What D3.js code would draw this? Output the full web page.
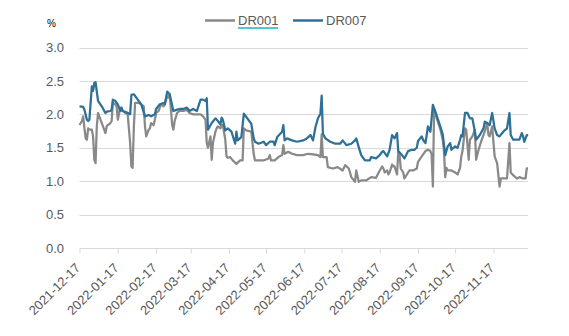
<!DOCTYPE html>
<html><head><meta charset="utf-8">
<script src="https://cdn.jsdelivr.net/npm/d3@7/dist/d3.min.js"></script>
<style>
html,body{margin:0;padding:0;background:#fff;}
svg{display:block;font-family:"Liberation Sans",Arial,sans-serif;}
</style></head>
<body><svg id="chart" width="569" height="336"></svg>
<script>
const seriesNames = ["DR001", "DR007"];
const yTicks = [0, 0.5, 1.0, 1.5, 2.0, 2.5, 3.0];
const xTickLabels = ["2021-12-17","2022-01-17","2022-02-17","2022-03-17","2022-04-17","2022-05-17","2022-06-17","2022-07-17","2022-08-17","2022-09-17","2022-10-17","2022-11-17"];
const xDomain = ["2021-12-17", "2022-12-15"];

const dr001Dates = ["2021-12-17","2021-12-19","2021-12-20","2021-12-21","2021-12-22","2021-12-23","2021-12-24","2021-12-25","2021-12-27","2021-12-28","2021-12-29","2021-12-30","2021-12-31","2022-01-01","2022-01-03","2022-01-05","2022-01-07","2022-01-08","2022-01-09","2022-01-11","2022-01-12","2022-01-13","2022-01-15","2022-01-16","2022-01-17","2022-01-19","2022-01-21","2022-01-23","2022-01-25","2022-01-27","2022-01-28","2022-01-29","2022-01-30","2022-01-31","2022-02-03","2022-02-05","2022-02-07","2022-02-08","2022-02-09","2022-02-11","2022-02-12","2022-02-13","2022-02-15","2022-02-16","2022-02-17","2022-02-19","2022-02-20","2022-02-21","2022-02-23","2022-02-24","2022-02-26","2022-02-27","2022-02-28","2022-03-02","2022-03-03","2022-03-04","2022-03-06","2022-03-08","2022-03-11","2022-03-14","2022-03-16","2022-03-19","2022-03-22","2022-03-25","2022-03-27","2022-03-29","2022-03-30","2022-03-31","2022-04-02","2022-04-03","2022-04-04","2022-04-06","2022-04-07","2022-04-08","2022-04-10","2022-04-11","2022-04-12","2022-04-14","2022-04-15","2022-04-16","2022-04-18","2022-04-20","2022-04-23","2022-04-26","2022-04-28","2022-04-29","2022-05-01","2022-05-05","2022-05-07","2022-05-08","2022-05-09","2022-05-15","2022-05-19","2022-05-20","2022-05-21","2022-05-24","2022-05-27","2022-05-30","2022-05-31","2022-06-01","2022-06-04","2022-06-07","2022-06-11","2022-06-16","2022-06-20","2022-06-24","2022-06-28","2022-06-30","2022-07-01","2022-07-02","2022-07-05","2022-07-06","2022-07-10","2022-07-14","2022-07-18","2022-07-20","2022-07-23","2022-07-25","2022-07-28","2022-07-29","2022-07-31","2022-08-02","2022-08-06","2022-08-10","2022-08-14","2022-08-17","2022-08-19","2022-08-20","2022-08-21","2022-08-23","2022-08-24","2022-08-25","2022-08-27","2022-08-28","2022-08-29","2022-08-31","2022-09-01","2022-09-02","2022-09-03","2022-09-05","2022-09-06","2022-09-08","2022-09-10","2022-09-13","2022-09-16","2022-09-17","2022-09-20","2022-09-23","2022-09-25","2022-09-27","2022-09-28","2022-09-29","2022-09-30","2022-10-02","2022-10-05","2022-10-07","2022-10-08","2022-10-09","2022-10-10","2022-10-11","2022-10-14","2022-10-17","2022-10-19","2022-10-21","2022-10-22","2022-10-23","2022-10-25","2022-10-26","2022-10-28","2022-10-29","2022-10-31","2022-11-02","2022-11-03","2022-11-05","2022-11-07","2022-11-10","2022-11-12","2022-11-13","2022-11-14","2022-11-16","2022-11-18","2022-11-20","2022-11-22","2022-11-23","2022-11-25","2022-11-28","2022-11-30","2022-12-01","2022-12-03","2022-12-06","2022-12-08","2022-12-11","2022-12-13","2022-12-14","2022-12-15"];
const dr001Values = [1.84,1.90,1.97,1.79,1.64,1.62,1.79,1.77,1.77,1.67,1.32,1.27,1.82,2.02,1.92,1.82,1.72,1.82,1.84,1.87,1.90,2.17,2.15,2.12,1.92,2.10,2.05,2.02,2.00,1.57,1.22,1.20,1.82,2.17,2.17,2.15,2.12,1.82,1.67,1.77,1.79,1.87,1.84,1.92,2.02,2.05,2.10,2.15,2.12,2.15,2.27,2.25,2.30,1.84,1.77,1.90,2.02,2.05,2.05,2.07,2.02,2.00,2.00,2.00,1.97,1.92,1.57,1.50,1.67,1.32,1.57,1.74,1.79,1.82,1.79,1.84,1.84,1.62,1.37,1.35,1.36,1.31,1.26,1.31,1.31,1.79,1.76,1.74,1.41,1.31,1.31,1.31,1.34,1.39,1.31,1.31,1.36,1.39,1.54,1.41,1.44,1.41,1.39,1.39,1.41,1.40,1.39,1.36,1.70,1.36,1.36,1.21,1.19,1.21,1.16,1.24,1.19,1.06,0.99,1.16,0.99,1.01,1.01,1.06,1.05,1.16,1.22,1.19,1.13,1.16,1.10,1.13,1.25,1.22,1.22,1.10,1.44,1.40,1.19,1.13,1.04,1.10,1.16,1.16,1.19,1.29,1.37,1.45,1.47,1.45,1.40,0.92,2.05,1.95,1.78,1.62,1.45,1.06,1.20,1.16,1.16,1.13,1.10,1.20,1.37,1.45,1.79,1.77,1.32,1.62,1.67,1.77,1.32,1.47,1.59,1.74,1.87,1.69,1.67,1.82,1.37,1.27,0.92,1.04,1.04,1.04,1.57,1.13,1.09,1.04,1.06,1.04,1.04,1.19,1.19];

const dr007Dates = ["2021-12-17","2021-12-20","2021-12-21","2021-12-23","2021-12-24","2021-12-25","2021-12-27","2021-12-28","2021-12-29","2021-12-30","2022-01-01","2022-01-04","2022-01-07","2022-01-08","2022-01-11","2022-01-12","2022-01-13","2022-01-15","2022-01-17","2022-01-19","2022-01-20","2022-01-21","2022-01-24","2022-01-27","2022-01-28","2022-01-30","2022-02-01","2022-02-05","2022-02-08","2022-02-11","2022-02-13","2022-02-16","2022-02-17","2022-02-20","2022-02-23","2022-02-24","2022-02-26","2022-02-27","2022-02-28","2022-03-03","2022-03-06","2022-03-08","2022-03-11","2022-03-14","2022-03-16","2022-03-19","2022-03-22","2022-03-25","2022-03-27","2022-03-29","2022-03-30","2022-03-31","2022-04-03","2022-04-06","2022-04-08","2022-04-10","2022-04-11","2022-04-12","2022-04-14","2022-04-16","2022-04-19","2022-04-22","2022-04-23","2022-04-24","2022-04-27","2022-04-29","2022-05-01","2022-05-05","2022-05-07","2022-05-08","2022-05-11","2022-05-15","2022-05-17","2022-05-20","2022-05-23","2022-05-24","2022-05-26","2022-05-30","2022-05-31","2022-06-01","2022-06-03","2022-06-07","2022-06-11","2022-06-16","2022-06-19","2022-06-22","2022-06-24","2022-06-26","2022-06-28","2022-06-30","2022-07-01","2022-07-02","2022-07-04","2022-07-08","2022-07-12","2022-07-16","2022-07-18","2022-07-21","2022-07-25","2022-07-28","2022-07-29","2022-07-31","2022-08-02","2022-08-05","2022-08-09","2022-08-10","2022-08-14","2022-08-17","2022-08-19","2022-08-20","2022-08-23","2022-08-25","2022-08-27","2022-08-29","2022-08-31","2022-09-01","2022-09-04","2022-09-06","2022-09-09","2022-09-12","2022-09-14","2022-09-16","2022-09-17","2022-09-20","2022-09-21","2022-09-23","2022-09-24","2022-09-25","2022-09-27","2022-09-29","2022-10-01","2022-10-05","2022-10-07","2022-10-09","2022-10-11","2022-10-13","2022-10-14","2022-10-17","2022-10-19","2022-10-21","2022-10-22","2022-10-23","2022-10-25","2022-10-27","2022-10-29","2022-10-31","2022-11-02","2022-11-03","2022-11-06","2022-11-09","2022-11-10","2022-11-12","2022-11-14","2022-11-16","2022-11-18","2022-11-20","2022-11-22","2022-11-25","2022-11-28","2022-11-30","2022-12-01","2022-12-03","2022-12-06","2022-12-08","2022-12-10","2022-12-11","2022-12-12","2022-12-14","2022-12-15"];
const dr007Values = [2.12,2.11,2.07,1.92,1.90,1.92,2.42,2.35,2.47,2.48,2.20,2.12,2.02,2.04,2.05,2.07,2.22,2.20,2.15,2.05,2.10,2.05,2.03,2.00,2.29,2.30,2.25,2.15,1.97,1.99,1.97,2.00,2.08,2.15,2.17,2.15,2.34,2.32,2.30,2.05,2.07,2.08,2.08,2.10,2.05,2.08,2.05,2.22,2.22,2.20,2.24,1.77,1.87,1.94,1.90,1.85,1.95,1.92,1.76,1.79,1.74,1.56,1.74,1.61,1.66,2.01,1.96,1.86,1.64,1.59,1.56,1.59,1.54,1.59,1.59,1.54,1.66,1.74,1.84,1.61,1.64,1.61,1.59,1.61,1.64,1.69,1.61,1.81,1.94,2.01,2.28,1.71,1.64,1.59,1.56,1.56,1.61,1.54,1.56,1.61,1.64,1.51,1.39,1.31,1.31,1.36,1.34,1.39,1.44,1.45,1.37,1.47,1.69,1.64,1.72,1.45,1.39,1.34,1.45,1.47,1.47,1.50,1.60,1.67,1.62,1.57,1.69,1.82,1.74,2.14,2.04,1.82,1.70,1.39,1.52,1.57,1.47,1.52,1.50,1.62,1.69,1.67,2.02,2.02,1.94,1.94,1.74,1.62,1.69,1.79,1.89,1.87,1.84,2.02,1.79,1.69,1.67,1.74,1.79,2.02,1.69,1.62,1.62,1.62,1.72,1.67,1.59,1.69,1.68];

const colors = {DR001: "#898989", DR007: "#2f7096"};

const parse = d3.timeParse("%Y-%m-%d");
const fmt = d3.timeFormat("%Y-%m-%d");
const svg = d3.select("#chart");

const x = d3.scaleTime().domain(xDomain.map(parse)).range([79.5, 528]);
const y = d3.scaleLinear().domain([0, 3]).range([248, 47.5]);

// gridlines
svg.append("g").selectAll("line").data(yTicks.filter(t => t > 0)).join("line")
  .attr("x1", 79.5).attr("x2", 528)
  .attr("y1", d => Math.round(y(d)) + 0.5).attr("y2", d => Math.round(y(d)) + 0.5)
  .attr("stroke", "#d9d9d9").attr("stroke-width", 1);

// y axis labels
const yAxis = d3.axisLeft(y).tickValues(yTicks).tickFormat(d3.format(".1f")).tickSize(0).tickPadding(0);
const gy = svg.append("g").attr("transform", "translate(64,0)").call(yAxis);
gy.select(".domain").remove();
gy.selectAll("text").attr("fill", "#595959").attr("font-size", 13).attr("font-family", "Liberation Sans, Arial, sans-serif");

// x axis
const xAxis = d3.axisBottom(x).tickValues(xTickLabels.map(parse)).tickFormat(fmt).tickSize(5).tickSizeOuter(0);
const gx = svg.append("g").attr("transform", "translate(0,248.5)").call(xAxis);
gx.select(".domain").attr("stroke", "#d9d9d9").attr("d", "M79.5,0H528");
gx.selectAll(".tick line").attr("stroke", "#d9d9d9");
gx.selectAll("text")
  .attr("fill", "#595959").attr("font-size", 13).attr("font-family", "Liberation Sans, Arial, sans-serif")
  .attr("text-anchor", "end").attr("dy", "0.35em").attr("y", 0)
  .attr("transform", "translate(-2,17) rotate(-45)");

// lines
const line = d3.line().x(d => x(d.date)).y(d => y(d.value));
const dr001 = dr001Dates.map((d, i) => ({date: parse(d), value: dr001Values[i]}));
const dr007 = dr007Dates.map((d, i) => ({date: parse(d), value: dr007Values[i]}));
[["DR001", dr001], ["DR007", dr007]].forEach(([name, data]) => {
  svg.append("path").datum(data).attr("d", line)
    .attr("fill", "none").attr("stroke", colors[name]).attr("stroke-width", 2.25)
    .attr("stroke-linejoin", "round");
});

// unit label
svg.append("text").attr("x", 47).attr("y", 27).text("%")
  .attr("font-size", 10).attr("fill", "#000");

// legend
const legendX = [205, 293];
seriesNames.forEach((name, i) => {
  const g = svg.append("g").attr("transform", `translate(${legendX[i]},20.5)`);
  g.append("line").attr("x1", 0).attr("x2", 30).attr("stroke", colors[name]).attr("stroke-width", 2.5);
  g.append("text").attr("x", 33).attr("y", 0).attr("dy", "0.35em").text(name)
    .attr("font-size", 13).attr("fill", "#595959");
  if (i === 0) {
    g.append("line").attr("x1", 33).attr("x2", 73).attr("y1", 7.5).attr("y2", 7.5)
      .attr("stroke", "#19b3c4").attr("stroke-width", 1.5);
  }
});
</script></body></html>
